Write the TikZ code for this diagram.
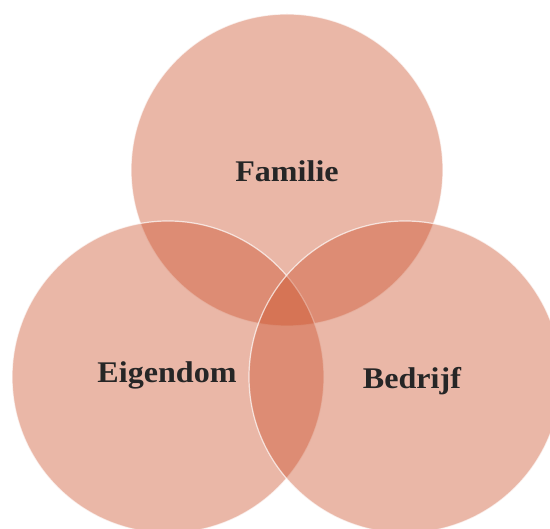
\documentclass[tikz,border=0pt]{standalone}
\usepackage{fontspec}
\setmainfont{Liberation Serif}
\newfontfamily\lblfont[FakeStretch=1.07]{Liberation Serif}
\definecolor{venn}{RGB}{203,80,42}
\definecolor{txt}{RGB}{38,38,38}
\tikzset{
  vcirc/.style={fill=venn, fill opacity=0.41, draw=white, draw opacity=0.7, line width=1.2pt},
  vlabel/.style={anchor=base, text=txt, font=\lblfont\fontsize{30}{34}\selectfont\bfseries, inner sep=0pt}
}
\begin{document}
\begin{tikzpicture}[x=1pt,y=1pt]
\useasboundingbox (0,0) rectangle (550,529);
\path[vcirc] (287,359) circle[radius=156];
\path[vcirc] (168,152) circle[radius=156];
\path[vcirc] (405,152) circle[radius=156];
\node[vlabel] (fam) at (287,347) {Familie};
\node[vlabel] (eig) at (167,146) {Eigendom};
\node[vlabel] (bed) at (412,140) {Bedrijf};
\end{tikzpicture}
\end{document}
